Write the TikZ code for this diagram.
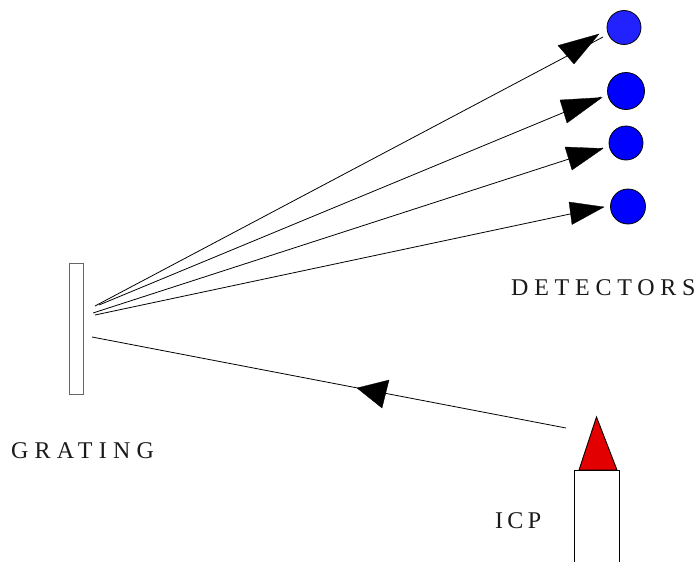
\documentclass[tikz,border=0pt]{standalone}
\usepackage{fontspec}
\setmainfont{Liberation Serif}
\newfontfamily\spacedA[LetterSpace=24]{Liberation Serif}
\newfontfamily\spacedB[LetterSpace=26]{Liberation Serif}
\newfontfamily\spacedC[LetterSpace=18]{Liberation Serif}
\tikzset{
  x=1pt,y=-1pt,
  detector/.style={circle,draw=black,line width=0.8pt,fill=#1,inner sep=0pt},
  ray/.style={draw=black,line width=0.8pt},
  head/.style={fill=black,draw=black,line width=0.3pt,line join=miter},
  lbl/.style={inner sep=0pt,anchor=base west,text=black!90},
}
\definecolor{detA}{HTML}{2222FF}
\definecolor{detB}{HTML}{0000FF}
\definecolor{nozzle}{HTML}{E30000}
\begin{document}
\begin{tikzpicture}
\useasboundingbox (0,0) rectangle (699,562);
% grating
\node[draw=black!60,line width=0.9pt,minimum width=14pt,minimum height=131pt,inner sep=0pt] (grating) at (76.5,328.5) {};
% detectors
\node[detector=detA,minimum size=34pt] (d1) at (624,27.5) {};
\node[detector=detB,minimum size=37pt] (d2) at (626,91) {};
\node[detector=detB,minimum size=34pt] (d3) at (626,143) {};
\node[detector=detB,minimum size=35pt] (d4) at (628,206.5) {};
% ray ends
\coordinate (s1) at (95,306);
\coordinate (s2) at (99,305);
\coordinate (s3) at (93,313);
\coordinate (s4) at (95,315);
\coordinate (e1) at (603,37);
\coordinate (e2) at (601,97);
\coordinate (e3) at (603,148);
\coordinate (e4) at (603,207);
\coordinate (in) at (92,337);
\coordinate (out) at (566,428);
\draw[ray] (s1) -- (e1);
\draw[ray] (s2) -- (e2);
\draw[ray] (s3) -- (e3);
\draw[ray] (s4) -- (e4);
\draw[ray] (out) -- (in);
% arrowheads
\fill[head] (599,34) -- (558,45.5) -- (574,64) -- cycle;
\fill[head] (602,97.5) -- (560,100) -- (567,123) -- cycle;
\fill[head] (603,148.5) -- (565,147) -- (572,170) -- cycle;
\fill[head] (604,207) -- (569,202) -- (572,224.5) -- cycle;
\fill[head] (357,388) -- (389,380) -- (382,408) -- cycle;
% ICP
\draw[line width=0.9pt] (574,562) -- (574,470) -- (619,470) -- (619,562);
\draw[line width=0.9pt,fill=nozzle,line join=miter] (596.5,417) -- (579,470) -- (617,470) -- cycle;
% labels
\node[lbl,font=\spacedA\fontsize{24}{24}\selectfont] (det) at (511,295) {DETECTORS};
\node[lbl,font=\spacedB\fontsize{24}{24}\selectfont] (gr) at (11,458) {GRATING};
\node[lbl,font=\spacedC\fontsize{24}{24}\selectfont] (icp) at (495,528) {ICP};
\end{tikzpicture}
\end{document}
